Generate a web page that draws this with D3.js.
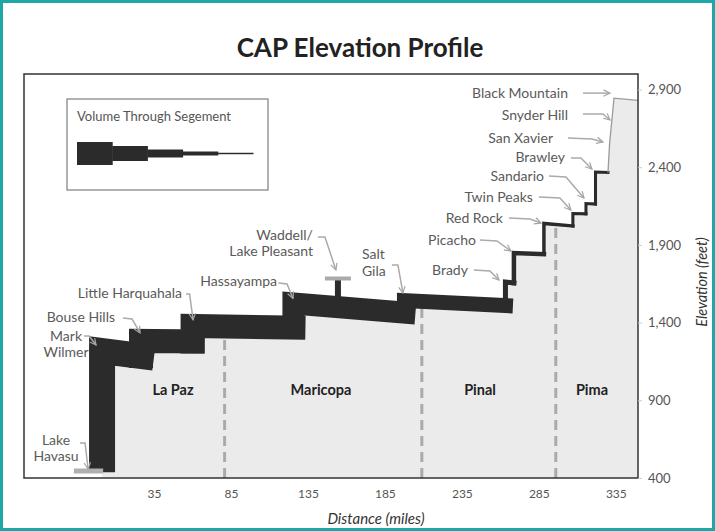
<!DOCTYPE html>
<meta charset="utf-8">
<style>
body { margin: 0; background: #fff; }
svg { display: block; font-family: Lato, "Open Sans", sans-serif; }
.callout text { fill: #5a5a5a; font-size: 14px; }
.county { fill: #222; font-size: 14.5px; font-weight: 700; }
.tick text { fill: #555; }
</style>
<body>
<svg id="chart" width="715" height="531"></svg>
<script src="https://d3js.org/d3.v7.min.js"></script>
<script>
// pumping plants along the canal: lift bottom -> lift top (feet), volume carried after the lift
var stationNames = ["Mark Wilmer", "Bouse Hills", "Little Harquahala", "Hassayampa", "Salt Gila",
  "Brady", "Picacho", "Red Rock", "Twin Peaks", "Sandario", "Brawley"];
var stationMile = [1.3, 26.6, 60.1, 125.6, 197.7, 263.3, 268.8, 288.3, 307.1, 315.6, 321.8];
var liftFrom = [520, 1185, 1279, 1368, 1465, 1510, 1655, 1840, 2022, 2100, 2163];
var liftTo = [1217, 1282, 1379, 1523, 1542, 1661, 1848, 2038, 2102, 2166, 2369];
var segVolume = [3000, 2770, 2770, 2540, 1730, 580, 520, 400, 350, 350, 350];
var canalEnd = [329.9, 2366];

// Tucson pipeline plants (thin line)
var pipeNames = ["San Xavier", "Snyder Hill", "Black Mountain"];
var pipeMile = [331.0, 332.5, 333.8];
var pipeElev = [2560, 2710, 2845];
var pipeTail = [349.4, 2830];

var lakeElev = 445, lakeMiles = [-17, 2];
var waddellMile = 154.5, waddellElev = 1684;

var counties = ["La Paz", "Maricopa", "Pinal", "Pima"];
var countyMid = [47.4, 143.5, 246.8, 319.5];
var countyBorder = [80.9, 209, 296];

var xTicks = [35, 85, 135, 185, 235, 285, 335];
var yTicks = [400, 900, 1400, 1900, 2400, 2900];
var legendVolume = [2650, 1730, 920, 460, 170];

var svg = d3.select("#chart");
var box = {left: 24, top: 74, right: 638, bottom: 478};

var x = d3.scaleLinear().domain([-49.4, 349.4]).range([box.left, box.right]);
var y = d3.scaleLinear().domain([400, 3000]).range([box.bottom, box.top]);
var bandW = d3.scaleLinear().domain([0, 3000]).range([0, 26]);

// frame + title
svg.append("rect").attr("x", 1.5).attr("y", 1.5).attr("width", 712).attr("height", 528)
  .attr("fill", "#fff").attr("stroke", "#1ea7a7").attr("stroke-width", 3);
svg.append("text").attr("x", 360).attr("y", 57).attr("text-anchor", "middle")
  .attr("font-size", 26).attr("font-weight", 700).attr("fill", "#222").text("CAP Elevation Profile");

// profile points (stepped)
var profile = [];
stationMile.forEach(function(m, i) {
  profile.push([m, liftFrom[i]]);
  profile.push([m, liftTo[i]]);
});
profile.push(canalEnd);
var pipePts = [canalEnd].concat(pipeMile.map(function(m, i) { return [m, pipeElev[i]]; })).concat([pipeTail]);
var ground = profile.concat(pipePts.slice(1));

function profileAt(m) {
  for (var i = 1; i < ground.length; i++) {
    var a = ground[i - 1], b = ground[i];
    if (b[0] > a[0] && m >= a[0] && m <= b[0]) return a[1] + (b[1] - a[1]) * (m - a[0]) / (b[0] - a[0]);
  }
  return 400;
}

var plot = svg.append("g");
plot.append("clipPath").attr("id", "clip").append("rect")
  .attr("x", box.left).attr("y", box.top).attr("width", box.right - box.left).attr("height", box.bottom - box.top);

plot.append("path").datum(ground)
  .attr("clip-path", "url(#clip)")
  .attr("fill", "#ebebeb")
  .attr("d", d3.area().x(function(d) { return x(d[0]); }).y0(y(400)).y1(function(d) { return y(d[1]); }));

// county borders
plot.selectAll(".border").data(countyBorder).enter().append("line")
  .attr("x1", function(d) { return x(d); }).attr("x2", function(d) { return x(d); })
  .attr("y1", y(400)).attr("y2", function(d) { return y(profileAt(d)); })
  .attr("stroke", "#aaa").attr("stroke-width", 3).attr("stroke-dasharray", "10,6");

plot.selectAll(".county").data(counties).enter().append("text")
  .attr("class", "county").attr("text-anchor", "middle")
  .attr("x", function(d, i) { return x(countyMid[i]); }).attr("y", 395).text(function(d) { return d; });

// canal segments, stroke width = volume
var line = d3.line().x(function(d) { return x(d[0]); }).y(function(d) { return y(d[1]); });
var segs = stationMile.map(function(m, i) {
  var next = i < stationMile.length - 1 ? [stationMile[i + 1], liftFrom[i + 1]] : canalEnd;
  return {pts: [[m, liftFrom[i]], [m, liftTo[i]], next], vol: segVolume[i]};
});
plot.selectAll(".seg").data(segs).enter().append("path")
  .attr("d", function(d) { return line(d.pts); })
  .attr("fill", "none").attr("stroke", "#2b2b2b")
  .attr("stroke-width", function(d) { return bandW(d.vol); })
  .attr("stroke-linecap", "square").attr("stroke-linejoin", "miter");

plot.append("path").datum(pipePts).attr("d", line)
  .attr("fill", "none").attr("stroke", "#9a9a9a").attr("stroke-width", 1.3);

// Waddell / Lake Pleasant
plot.append("line").attr("x1", x(waddellMile)).attr("x2", x(waddellMile))
  .attr("y1", y(profileAt(waddellMile))).attr("y2", y(waddellElev))
  .attr("stroke", "#2b2b2b").attr("stroke-width", 6);
plot.append("line").attr("x1", x(waddellMile) - 13).attr("x2", x(waddellMile) + 13)
  .attr("y1", y(waddellElev)).attr("y2", y(waddellElev))
  .attr("stroke", "#aaa").attr("stroke-width", 4);

// Lake Havasu level
plot.append("line").attr("x1", x(lakeMiles[0])).attr("x2", x(lakeMiles[1]))
  .attr("y1", y(lakeElev)).attr("y2", y(lakeElev))
  .attr("stroke", "#b0b0b0").attr("stroke-width", 5);

// callouts
svg.append("defs").append("marker").attr("id", "arr")
  .attr("viewBox", "0 0 10 10").attr("refX", 9).attr("refY", 5)
  .attr("markerWidth", 8).attr("markerHeight", 8).attr("markerUnits", "userSpaceOnUse")
  .attr("orient", "auto")
  .append("path").attr("d", "M1,1L9,5L1,9").attr("fill", "none")
  .attr("stroke", "#a5a5a5").attr("stroke-width", 1.5);

function stationPt(name) {
  var i = stationNames.indexOf(name);
  if (i >= 0) return [x(stationMile[i]), y(liftTo[i])];
  i = pipeNames.indexOf(name);
  if (i >= 0) return [x(pipeMile[i]), y(pipeElev[i])];
  if (name === "Lake Havasu") return [x(stationMile[0]), y(lakeElev)];
  return [x(waddellMile), y(waddellElev)];
}

var callouts = [
  {name: "Lake Havasu", lines: ["Lake", "Havasu"], anchor: "middle", t: [-46, -26], path: [[-22, -28], [-17, -28], [-14, -2]]},
  {name: "Mark Wilmer", lines: ["Mark", "Wilmer"], anchor: "middle", t: [-36, -10], path: [[-18, -15], [-13, -15], [-6, -6]]},
  {name: "Bouse Hills", lines: ["Bouse Hills"], anchor: "end", t: [-26, -19], path: [[-18, -23], [-9, -22], [-1, -8]]},
  {name: "Little Harquahala", lines: ["Little Harquahala"], anchor: "end", t: [-10.5, -28], path: [[-6.5, -32], [-3, -32], [0.5, -6]]},
  {name: "Hassayampa", lines: ["Hassayampa"], anchor: "end", t: [-16.4, -18], path: [[-15, -20.5], [-6.4, -19.5], [-0.4, -5]]},
  {name: "Waddell", lines: ["Waddell/", "Lake Pleasant"], anchor: "end", t: [-25, -38], path: [[-20, -41.5], [-13, -41.5], [-2, -8.5]]},
  {name: "Salt Gila", lines: ["Salt", "Gila"], sizes: [12.5, 16], anchor: "start", t: [-42.5, -41.5], path: [[-12.5, -35.5], [-6.5, -35.5], [-1.5, -7.5]]},
  {name: "Brady", lines: ["Brady"], anchor: "end", t: [-37.5, -7], path: [[-31.5, -12], [-15.5, -11], [-6.5, -2]]},
  {name: "Picacho", lines: ["Picacho"], anchor: "end", t: [-38, -8], path: [[-34, -13], [-17, -12], [-3, -2]]},
  {name: "Red Rock", lines: ["Red Rock"], anchor: "end", t: [-41, -0.5], path: [[-35, -5.5], [-14, -4.5], [-3, -0.5]]},
  {name: "Twin Peaks", lines: ["Twin Peaks"], anchor: "end", t: [-40, -11.5], path: [[-34, -16.5], [-13, -15.5], [-2, -3.5]]},
  {name: "Sandario", lines: ["Sandario"], anchor: "end", t: [-42, -22.6], path: [[-37, -27.6], [-20, -26.6], [-2, -5.6]]},
  {name: "Brawley", lines: ["Brawley"], anchor: "end", t: [-30.6, -10], path: [[-24.6, -14], [-14.6, -14], [-3.6, -3]]},
  {name: "San Xavier", lines: ["San Xavier"], anchor: "end", t: [-56.7, 0.6], path: [[-41.7, -4.4], [-17.7, -3.4], [-6.7, -0.4]]},
  {name: "Snyder Hill", lines: ["Snyder Hill"], anchor: "end", t: [-44, 0.9], path: [[-29, -5.1], [-9, -5.1], [-2, 0.9]]},
  {name: "Black Mountain", lines: ["Black Mountain"], anchor: "end", t: [-46, 0], path: [[-31, -5], [-15, -5], [-4, -5]]}
];

var cg = svg.selectAll(".callout").data(callouts).enter().append("g").attr("class", "callout")
  .attr("transform", function(d) { var p = stationPt(d.name); return "translate(" + p[0] + "," + p[1] + ")"; });
cg.append("path")
  .attr("d", function(d) { return d3.line()(d.path); })
  .attr("fill", "none").attr("stroke", "#aaa").attr("stroke-width", 1.5)
  .attr("marker-end", "url(#arr)");
cg.each(function(d) {
  var g = d3.select(this), yy = d.t[1];
  d.lines.forEach(function(s, i) {
    if (i > 0) yy += d.sizes ? 17 : 16;
    g.append("text").attr("x", d.t[0]).attr("y", yy).attr("text-anchor", d.anchor)
      .attr("font-size", d.sizes ? d.sizes[i] : (d.lines.length > 1 ? 13.5 : 14)).text(s);
  });
});

// plot frame
svg.append("rect").attr("x", box.left).attr("y", box.top)
  .attr("width", box.right - box.left).attr("height", box.bottom - box.top)
  .attr("fill", "none").attr("stroke", "#333").attr("stroke-width", 1.5);

// axes
var yAxis = svg.append("g").attr("transform", "translate(" + box.right + ",0)")
  .call(d3.axisRight(y).tickValues(yTicks).tickFormat(d3.format(",")).tickSize(4).tickPadding(6));
yAxis.select(".domain").remove();
yAxis.selectAll(".tick line").attr("stroke", "#ccc");
yAxis.selectAll(".tick text").attr("font-size", 13).attr("font-family", "Lato, sans-serif");

var xAxis = svg.append("g").attr("transform", "translate(0," + box.bottom + ")")
  .call(d3.axisBottom(x).tickValues(xTicks).tickSize(0).tickPadding(11));
xAxis.select(".domain").remove();
xAxis.selectAll(".tick text").attr("font-size", 12).attr("font-family", "Lato, sans-serif");

svg.append("text").attr("x", 376).attr("y", 524).attr("text-anchor", "middle")
  .attr("font-size", 15).attr("font-style", "italic").attr("fill", "#333").text("Distance (miles)");
svg.append("text").attr("transform", "translate(707,282) rotate(-90)").attr("text-anchor", "middle")
  .attr("font-size", 14.5).attr("font-style", "italic").attr("fill", "#333").text("Elevation (feet)");

// legend
var lg = svg.append("g");
lg.append("rect").attr("x", 67).attr("y", 99).attr("width", 201).attr("height", 91)
  .attr("fill", "#fff").attr("stroke", "#888").attr("stroke-width", 1.3);
lg.append("text").attr("x", 77).attr("y", 121).attr("font-size", 13).attr("fill", "#555")
  .text("Volume Through Segement");
var lx = d3.scaleBand().domain(d3.range(legendVolume.length)).range([77, 253]);
lg.selectAll(".lv").data(legendVolume).enter().append("rect")
  .attr("x", function(d, i) { return lx(i); })
  .attr("width", lx.bandwidth() + 0.5)
  .attr("y", function(d) { return 153.5 - bandW(d) / 2; })
  .attr("height", function(d) { return bandW(d); })
  .attr("fill", "#2b2b2b");
</script>
</body>
